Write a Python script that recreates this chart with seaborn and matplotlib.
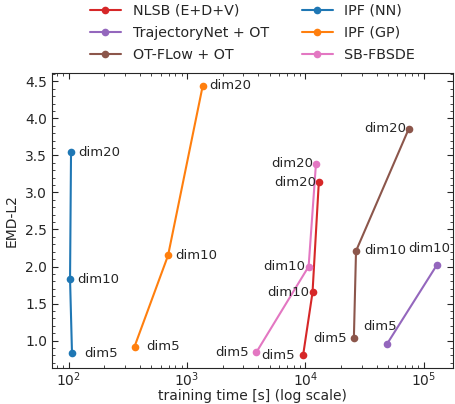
import numpy as np
import pandas as pd
import seaborn as sns
from matplotlib import pyplot as plt

# methods in legend order (column-wise)
methods = ['NLSB (E+D+V)', 'TrajectoryNet + OT', 'OT-FLow + OT',
           'IPF (NN)', 'IPF (GP)', 'SB-FBSDE']
colors = ['tab:red', 'tab:purple', 'tab:brown', 'tab:blue', 'tab:orange', 'tab:pink']

# training time [s] and EMD-L2 per dimension
nlsb_time = [9570, 11500, 13000]
nlsb_emd = [0.80, 1.65, 3.14]
nlsb_dims = ['dim5', 'dim10', 'dim20']

traj_time = [49200, 129000]
traj_emd = [0.96, 2.02]
traj_dims = ['dim5', 'dim10']

otflow_time = [25700, 26800, 74800]
otflow_emd = [1.03, 2.21, 3.86]
otflow_dims = ['dim5', 'dim10', 'dim20']

ipfnn_time = [107, 103, 105]
ipfnn_emd = [0.83, 1.83, 3.54]
ipfnn_dims = ['dim5', 'dim10', 'dim20']

ipfgp_time = [361, 693, 1360]
ipfgp_emd = [0.92, 2.15, 4.44]
ipfgp_dims = ['dim5', 'dim10', 'dim20']

sbf_time = [3850, 10660, 12300]
sbf_emd = [0.84, 2.00, 3.39]
sbf_dims = ['dim5', 'dim10', 'dim20']

series = [(nlsb_time, nlsb_emd, nlsb_dims), (traj_time, traj_emd, traj_dims),
          (otflow_time, otflow_emd, otflow_dims), (ipfnn_time, ipfnn_emd, ipfnn_dims),
          (ipfgp_time, ipfgp_emd, ipfgp_dims), (sbf_time, sbf_emd, sbf_dims)]

rows = []
for m, (t, e, d) in zip(methods, series):
    for ti, ei, di in zip(t, e, d):
        rows.append({'method': m, 'time': ti, 'emd': ei, 'dim': di})
df = pd.DataFrame(rows)

# label offsets in pixels (dx, dy, ha) per method
label_pos = {
    'NLSB (E+D+V)': [(-8, 0, 'right'), (-3, 0, 'right'), (-3, 0, 'right')],
    'TrajectoryNet + OT': [(-7, 17, 'center'), (-8, 17, 'center')],
    'OT-FLow + OT': [(-7, 0, 'right'), (8, 0, 'left'), (-3, 0, 'right')],
    'IPF (NN)': [(12, 0, 'left'), (7, 0, 'left'), (7, 0, 'left')],
    'IPF (GP)': [(12, 0, 'left'), (7, 0, 'left'), (7, 0, 'left')],
    'SB-FBSDE': [(-7, 0, 'right'), (-3, 0, 'right'), (-3, 0, 'right')],
}

sns.set_style('ticks')
plt.rcParams['font.family'] = ['DejaVu Sans']
plt.rcParams['xtick.direction'] = 'in'
plt.rcParams['ytick.direction'] = 'in'
plt.rcParams['xtick.top'] = True
plt.rcParams['ytick.right'] = True
plt.rcParams['xtick.minor.visible'] = True
plt.rcParams['ytick.minor.visible'] = True

fig = plt.figure(figsize=(4.56, 4.04), dpi=100)
ax = fig.add_axes([0.114, 0.089, 0.879, 0.730])

sns.lineplot(data=df, x='time', y='emd', hue='method', hue_order=methods,
             palette=dict(zip(methods, colors)), marker='o', markersize=5.5,
             markeredgewidth=0, linewidth=1.5, sort=False, estimator=None, ax=ax)

for _, r in df.iterrows():
    i = list(df[df.method == r.method].dim).index(r.dim)
    dx, dy, ha = label_pos[r.method][i]
    ax.annotate(r.dim, (r.time, r.emd), xytext=(dx, dy), textcoords='offset pixels',
                ha=ha, va='center', fontsize=9.5)

ax.set_xscale('log')
ax.set_xlim(72.5, 1.76e5)
ax.set_ylim(0.63, 4.61)
ax.yaxis.set_minor_locator(plt.MultipleLocator(0.1))
ax.tick_params(which='major', length=4, labelsize=10)
ax.tick_params(which='minor', length=2)
ax.tick_params(axis='x', which='major', pad=1.5)
ax.set_xlabel('training time [s] (log scale)', fontsize=10, labelpad=0)
ax.set_ylabel('EMD-L2', fontsize=10, labelpad=5)

ax.legend(loc='lower center', bbox_to_anchor=(0.5, 1.01), ncol=2, frameon=False,
          fontsize=10.3, handlelength=2.2, columnspacing=2.3, labelspacing=0.55,
          borderaxespad=0.2)

fig.savefig('out.png', dpi=100)
